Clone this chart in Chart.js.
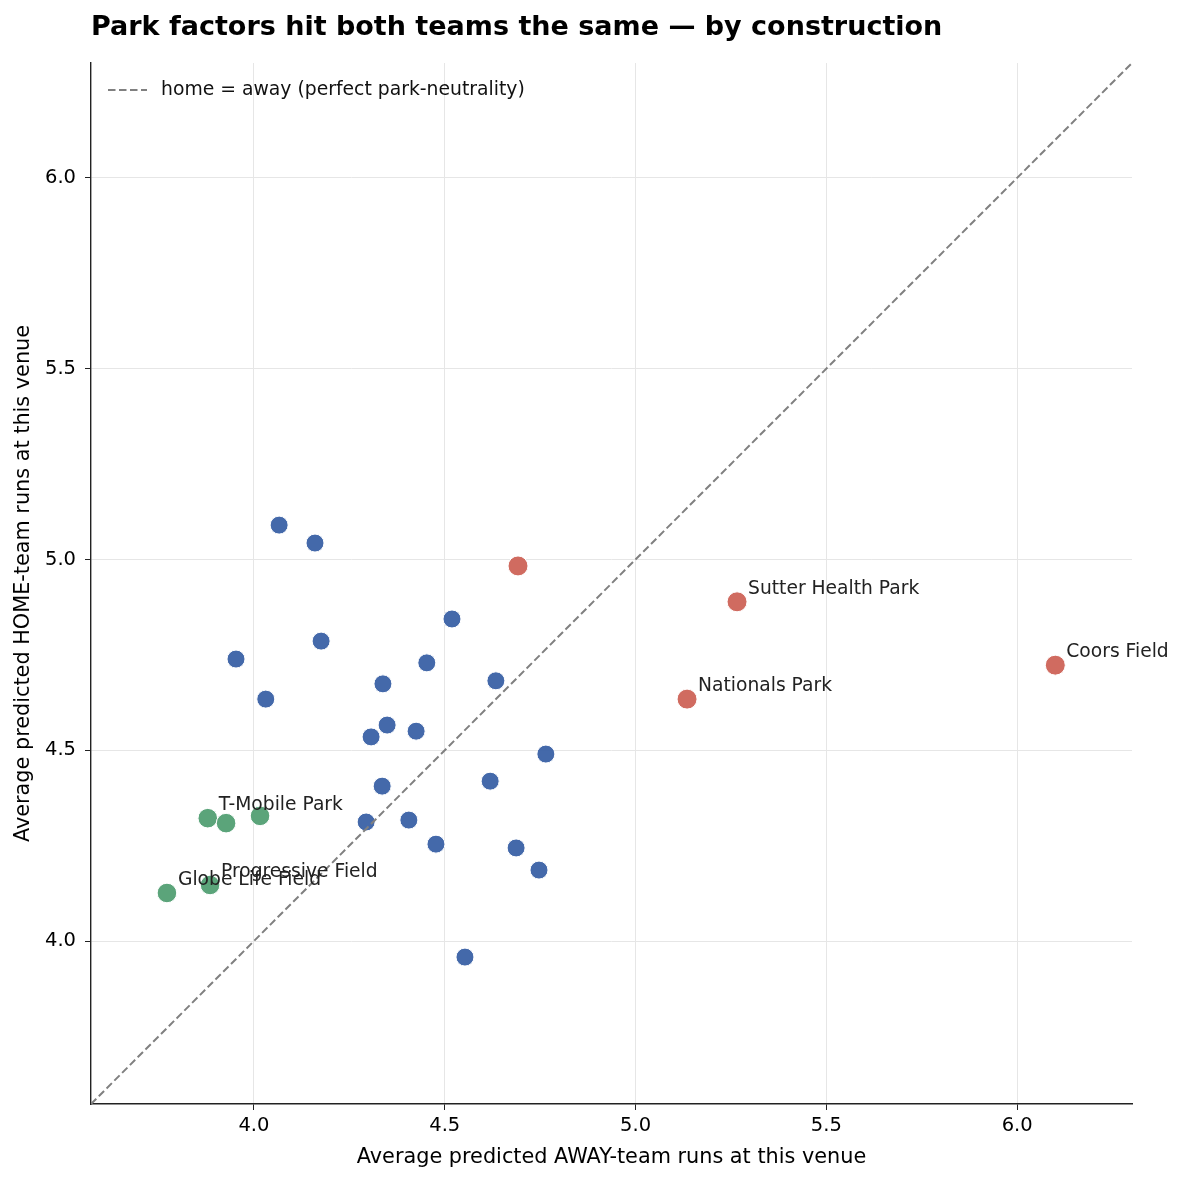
<!DOCTYPE html>
<html>
<head>
<meta charset="utf-8">
<title>Park factors</title>
<script src="https://cdn.jsdelivr.net/npm/chart.js@4.4.1/dist/chart.umd.min.js"></script>
<style>
    html, body { margin: 0; padding: 0; background: #fff; }
</style>
</head>
<body>
<canvas id="parkChart" width="1183" height="1182"></canvas>
<script>
// venues with no label
const otherAway = [4.066, 4.160, 4.176, 3.953, 4.031, 4.519, 4.453, 4.338, 4.634, 4.349, 4.425,
                   4.307, 4.765, 4.619, 4.336, 4.294, 4.406, 4.477, 4.687, 4.747, 4.553];
const otherHome = [5.090, 5.043, 4.786, 4.739, 4.634, 4.844, 4.729, 4.674, 4.682, 4.566, 4.550,
                   4.535, 4.490, 4.419, 4.406, 4.312, 4.317, 4.254, 4.244, 4.186, 3.958];

// hitter-friendly parks
const hitterNames = ['', 'Sutter Health Park', 'Nationals Park', 'Coors Field'];
const hitterAway = [4.692, 5.266, 5.135, 6.100];
const hitterHome = [4.983, 4.889, 4.634, 4.723];

// pitcher-friendly parks
const pitcherNames = ['T-Mobile Park', '', '', 'Progressive Field', 'Globe Life Field'];
const pitcherAway = [3.879, 3.927, 4.016, 3.885, 3.772];
const pitcherHome = [4.322, 4.309, 4.328, 4.147, 4.126];

const axisMin = 3.573;
const axisMax = 6.301;
const tickValues = [4.0, 4.5, 5.0, 5.5, 6.0];

function toPoints(xs, ys) {
    return xs.map((x, i) => ({ x: x, y: ys[i] }));
}

const fontFamily = "'DejaVu Sans', sans-serif";
const dashPattern = [7.5, 3.5];

// text next to the named venues
const venueLabels = {
    id: 'venueLabels',
    afterDatasetsDraw(chart) {
        const ctx = chart.ctx;
        ctx.save();
        ctx.font = '18.7px ' + fontFamily;
        ctx.fillStyle = '#222';
        ctx.textBaseline = 'middle';
        ctx.textAlign = 'left';
        chart.data.datasets.forEach((ds, i) => {
            if (!ds.names) return;
            chart.getDatasetMeta(i).data.forEach((pt, j) => {
                if (ds.names[j]) {
                    ctx.fillText(ds.names[j], pt.x + 11, pt.y - 13);
                }
            });
        });
        ctx.restore();
    }
};

// title and in-plot legend
const titleAndLegend = {
    id: 'titleAndLegend',
    afterDraw(chart) {
        const ctx = chart.ctx;
        const area = chart.chartArea;
        ctx.save();
        ctx.fillStyle = '#000';
        ctx.font = 'bold 27px ' + fontFamily;
        ctx.textBaseline = 'middle';
        ctx.fillText('Park factors hit both teams the same \u2014 by construction', 91, 28);

        const ly = area.top + 27;
        ctx.strokeStyle = '#808080';
        ctx.lineWidth = 2;
        ctx.setLineDash(dashPattern);
        ctx.beginPath();
        ctx.moveTo(area.left + 17, ly);
        ctx.lineTo(area.left + 56, ly);
        ctx.stroke();
        ctx.setLineDash([]);
        ctx.font = '18.8px ' + fontFamily;
        ctx.fillStyle = '#111';
        ctx.fillText('home = away (perfect park-neutrality)', area.left + 70, ly);
        ctx.restore();
    }
};

document.addEventListener('DOMContentLoaded', function() {
    const ctx = document.getElementById('parkChart').getContext('2d');

    const parkChart = new Chart(ctx, {
        type: 'scatter',
        data: {
            datasets: [
                {
                    type: 'line',
                    label: 'home = away (perfect park-neutrality)',
                    data: [{ x: axisMin, y: axisMin }, { x: axisMax, y: axisMax }],
                    borderColor: '#808080',
                    borderWidth: 2,
                    borderDash: dashPattern,
                    pointRadius: 0,
                    fill: false,
                    order: 0
                },
                {
                    label: 'other',
                    data: toPoints(otherAway, otherHome),
                    backgroundColor: 'rgba(60, 99, 167, 0.96)',
                    borderColor: '#fff',
                    borderWidth: 1,
                    pointRadius: 9,
                    order: 1
                },
                {
                    label: 'hitter',
                    names: hitterNames,
                    data: toPoints(hitterAway, hitterHome),
                    backgroundColor: 'rgba(206, 101, 90, 0.96)',
                    borderColor: '#fff',
                    borderWidth: 1,
                    pointRadius: 10,
                    order: 1
                },
                {
                    label: 'pitcher',
                    names: pitcherNames,
                    data: toPoints(pitcherAway, pitcherHome),
                    backgroundColor: 'rgba(84, 160, 117, 0.96)',
                    borderColor: '#fff',
                    borderWidth: 1,
                    pointRadius: 9.8,
                    order: 1
                }
            ]
        },
        options: {
            responsive: false,
            animation: false,
            layout: { padding: { left: 0, right: 51, top: 63, bottom: 0 } },
            plugins: {
                legend: { display: false },
                tooltip: { enabled: false }
            },
            scales: {
                x: {
                    type: 'linear',
                    min: axisMin,
                    max: axisMax,
                    afterBuildTicks: (scale) => { scale.ticks = tickValues.map(v => ({ value: v })); },
                    afterFit: (scale) => { scale.height = 78; },
                    ticks: {
                        color: '#000',
                        font: { family: fontFamily, size: 19.5 },
                        padding: 4,
                        maxRotation: 0,
                        callback: (v) => v.toFixed(1)
                    },
                    grid: { color: '#e6e6e6', tickColor: '#222', tickLength: 6, lineWidth: 1 },
                    border: { color: '#222', width: 1.4 },
                    title: {
                        display: true,
                        text: 'Average predicted AWAY-team runs at this venue',
                        color: '#000',
                        font: { family: fontFamily, size: 20.8 },
                        padding: { top: 0, bottom: 12 }
                    }
                },
                y: {
                    type: 'linear',
                    min: axisMin,
                    max: axisMax,
                    afterBuildTicks: (scale) => { scale.ticks = tickValues.map(v => ({ value: v })); },
                    afterFit: (scale) => { scale.width = 91; },
                    ticks: {
                        color: '#000',
                        font: { family: fontFamily, size: 19.5 },
                        padding: 9,
                        callback: (v) => v.toFixed(1)
                    },
                    grid: { color: '#e6e6e6', tickColor: '#222', tickLength: 6, lineWidth: 1 },
                    border: { color: '#222', width: 1.4 },
                    title: {
                        display: true,
                        text: 'Average predicted HOME-team runs at this venue',
                        color: '#000',
                        font: { family: fontFamily, size: 20.8 },
                        padding: { top: 11, bottom: 0 }
                    }
                }
            }
        },
        plugins: [venueLabels, titleAndLegend]
    });
});
</script>
</body>
</html>
